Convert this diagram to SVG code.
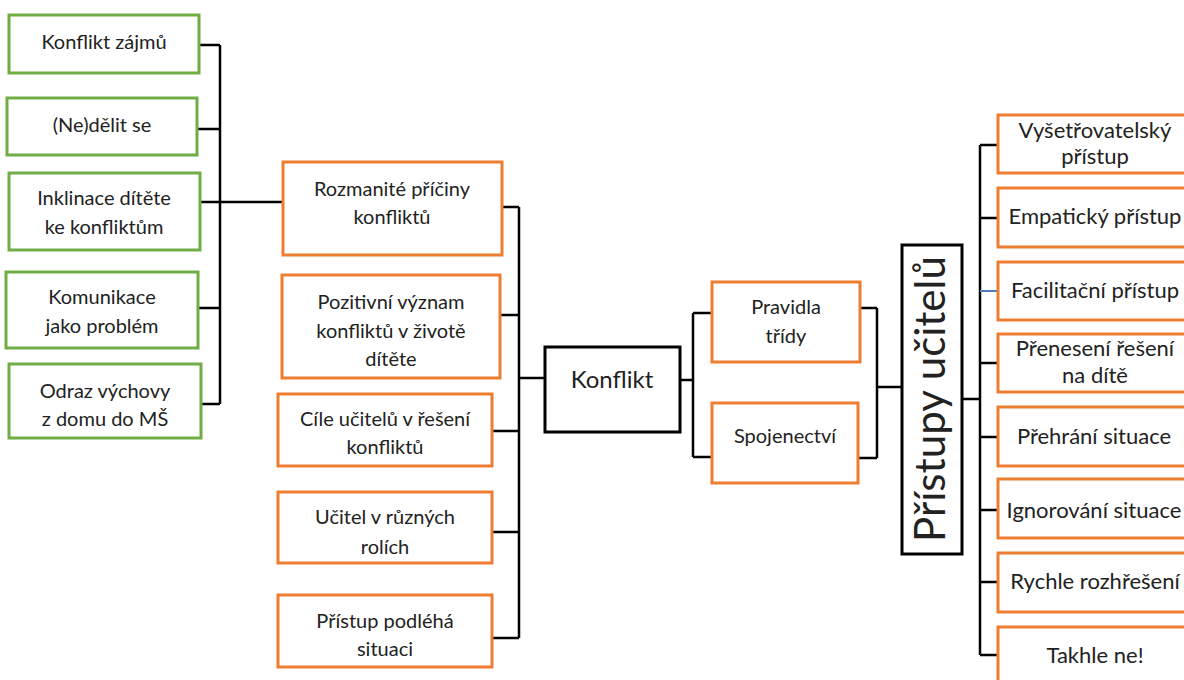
<svg xmlns="http://www.w3.org/2000/svg" width="1184" height="680" viewBox="0 0 1184 680">
<style>
.g{fill:#fff;stroke:#70AD47;stroke-width:3}
.o{fill:#fff;stroke:#ED7D31;stroke-width:3}
.k{fill:#fff;stroke:#000;stroke-width:3}
.c{fill:none;stroke:#000;stroke-width:2.5}
.b{fill:none;stroke:#4E7FB8;stroke-width:2}
text{font-family:Lato,"Liberation Sans",sans-serif;fill:#222;text-anchor:middle}
.s{font-size:20px}
.m{font-size:22px}
</style>
<rect width="1184" height="680" fill="#fff"/>
<g id="connectors">
<path class="c" d="M198 45H220M197 129H220M200 202H220M198 308H220M201 404H220M220 45V404M220 202H283"/>
<path class="c" d="M502 207H519M500 315H519M492 431H519M492 532H519M492 638H519M519 207V638M519 378H545"/>
<path class="c" d="M680 380H693M693 313V457M693 313H712M693 457H712"/>
<path class="c" d="M860 308H877M858 458H877M877 308V458M877 387H902"/>
<path class="c" d="M962 399H980M980 145V655M980 145H998M980 218H998M980 363H998M980 437H998M980 510H998M980 582H998M980 655H998"/>
<path class="b" d="M980 291H998"/>
</g>
<g id="n-konflikt-zajmu"><rect class="g" x="9" y="15" width="190" height="58"/><text class="s" x="104" y="49">Konflikt zájmů</text></g>
<g id="n-nedelit"><rect class="g" x="7" y="98" width="190" height="57"/><text class="s" x="102" y="132">(Ne)dělit se</text></g>
<g id="n-inklinace"><rect class="g" x="9" y="173" width="191" height="77"/><text class="s" x="104" y="205">Inklinace dítěte</text><text class="s" x="104" y="234">ke konfliktům</text></g>
<g id="n-komunikace"><rect class="g" x="6" y="272" width="192" height="76"/><text class="s" x="102" y="304">Komunikace</text><text class="s" x="102" y="333">jako problém</text></g>
<g id="n-odraz"><rect class="g" x="9" y="364" width="192" height="74"/><text class="s" x="105" y="398">Odraz výchovy</text><text class="s" x="105" y="426">z domu do MŠ</text></g>
<g id="n-rozmanite"><rect class="o" x="283" y="162" width="219" height="93"/><text class="s" x="392" y="196">Rozmanité příčiny</text><text class="s" x="392" y="224">konfliktů</text></g>
<g id="n-pozitivni"><rect class="o" x="282" y="275" width="218" height="103"/><text class="s" x="391" y="309">Pozitivní význam</text><text class="s" x="391" y="338">konfliktů v životě</text><text class="s" x="391" y="366">dítěte</text></g>
<g id="n-cile"><rect class="o" x="278" y="394" width="214" height="72"/><text class="s" x="385" y="426">Cíle učitelů v řešení</text><text class="s" x="385" y="454">konfliktů</text></g>
<g id="n-ucitel"><rect class="o" x="278" y="492" width="214" height="71"/><text class="s" x="385" y="524">Učitel v různých</text><text class="s" x="385" y="554">rolích</text></g>
<g id="n-pristup"><rect class="o" x="278" y="595" width="214" height="72"/><text class="s" x="385" y="628">Přístup podléhá</text><text class="s" x="385" y="656">situaci</text></g>
<g id="n-konflikt"><rect class="k" x="545" y="347" width="135" height="85"/><text x="612" y="388" style="font-size:24px">Konflikt</text></g>
<g id="n-pravidla"><rect class="o" x="712" y="282" width="148" height="80"/><text class="s" x="786" y="314">Pravidla</text><text class="s" x="786" y="343">třídy</text></g>
<g id="n-spojenectvi"><rect class="o" x="712" y="403" width="146" height="80"/><text class="s" x="785" y="443">Spojenectví</text></g>
<g id="n-pristupy"><rect class="k" x="902" y="245" width="60" height="309"/><text x="0" y="0" transform="translate(945 399) rotate(-90)" style="font-size:42px" textLength="286" lengthAdjust="spacingAndGlyphs">Přístupy učitelů</text></g>
<g id="n-vysetrovatelsky"><rect class="o" x="998" y="115" width="194" height="58"/><text class="m" x="1095" y="138">Vyšetřovatelský</text><text class="m" x="1095" y="164">přístup</text></g>
<g id="n-empaticky"><rect class="o" x="998" y="188" width="194" height="59"/><text class="m" x="1095" y="224">Empatický přístup</text></g>
<g id="n-facilitacni"><rect class="o" x="998" y="262" width="194" height="58"/><text class="m" x="1095" y="298">Facilitační přístup</text></g>
<g id="n-preneseni"><rect class="o" x="998" y="334" width="194" height="58"/><text class="m" x="1095" y="356">Přenesení řešení</text><text class="m" x="1095" y="383">na dítě</text></g>
<g id="n-prehrani"><rect class="o" x="998" y="407" width="194" height="59"/><text class="m" x="1094" y="444">Přehrání situace</text></g>
<g id="n-ignorovani"><rect class="o" x="998" y="479" width="194" height="59"/><text class="m" x="1094" y="518">Ignorování situace</text></g>
<g id="n-rychle"><rect class="o" x="998" y="553" width="194" height="59"/><text class="m" x="1095" y="589">Rychle rozhřešení</text></g>
<g id="n-takhle"><rect class="o" x="998" y="627" width="194" height="70"/><text class="m" x="1095" y="663">Takhle ne!</text></g>
</svg>
